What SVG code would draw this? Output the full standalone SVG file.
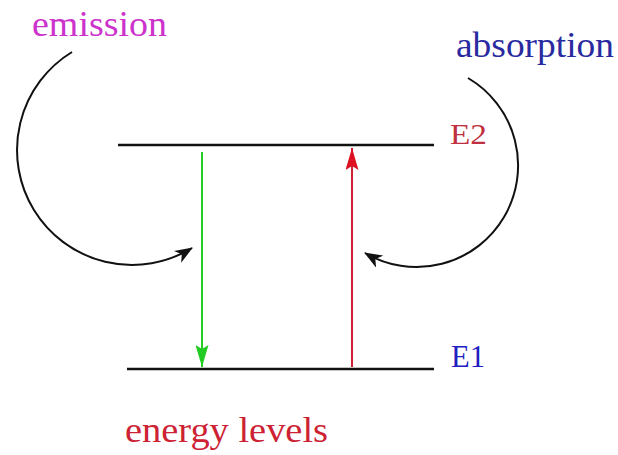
<svg xmlns="http://www.w3.org/2000/svg" width="618" height="455" viewBox="0 0 618 455">
<defs>
<style>
text{font-family:'Liberation Serif','Times New Roman',Times,serif;}
.lvl{stroke:#111;stroke-width:2.5;fill:none}
.curve{stroke:#111;stroke-width:2;fill:none}
</style>
<marker id="ak" viewBox="0 0 18 14" refX="17" refY="7" markerWidth="18" markerHeight="14" markerUnits="userSpaceOnUse" orient="auto"><path d="M0,0 L18,7 L0,14 L5,7 Z" fill="#111"/></marker>
<marker id="ag" viewBox="0 0 22 13" refX="22" refY="6.5" markerWidth="22" markerHeight="13" markerUnits="userSpaceOnUse" orient="auto"><path d="M0,0 L22,6.5 L0,13 L4,6.5 Z" fill="#22cc22"/></marker>
<marker id="ar" viewBox="0 0 22 13" refX="22" refY="6.5" markerWidth="22" markerHeight="13" markerUnits="userSpaceOnUse" orient="auto"><path d="M0,0 L22,6.5 L0,13 L4,6.5 Z" fill="#dd1122"/></marker>
</defs>
<rect width="618" height="455" fill="#fff"/>
<g id="E2">
<line class="lvl" x1="118" y1="145" x2="434" y2="145"/>
<text x="450" y="144" font-family="Liberation Serif, serif" font-size="29" fill="#c03040" textLength="37" lengthAdjust="spacingAndGlyphs">E2</text>
</g>
<g id="E1">
<line class="lvl" x1="127" y1="369" x2="434" y2="369"/>
<text x="451" y="367" font-family="Liberation Serif, serif" font-size="32" fill="#2020c0" textLength="34" lengthAdjust="spacingAndGlyphs">E1</text>
</g>
<g id="emission">
<text x="32" y="36" font-family="Liberation Serif, serif" font-size="36" fill="#cc33cc" textLength="135" lengthAdjust="spacingAndGlyphs">emission</text>
</g>
<g id="absorption">
<text x="456" y="57" font-family="Liberation Serif, serif" font-size="35" fill="#2a2aa0" textLength="158" lengthAdjust="spacingAndGlyphs">absorption</text>
</g>
<g id="energy-levels">
<text x="125" y="442" font-family="Liberation Serif, serif" font-size="35" fill="#cc2233" textLength="203" lengthAdjust="spacingAndGlyphs">energy levels</text>
</g>
<g id="connectors">
<line x1="202" y1="152" x2="202" y2="367" stroke="#22cc22" stroke-width="2" marker-end="url(#ag)"/>
<line x1="352" y1="367" x2="352" y2="148" stroke="#cc2233" stroke-width="2" marker-end="url(#ar)"/>
<path class="curve" d="M72,52 A106,106 0 1,0 192,248" marker-end="url(#ak)"/>
<path class="curve" d="M468,78 A101,101 0 1,1 365,253" marker-end="url(#ak)"/>
</g>
</svg>
